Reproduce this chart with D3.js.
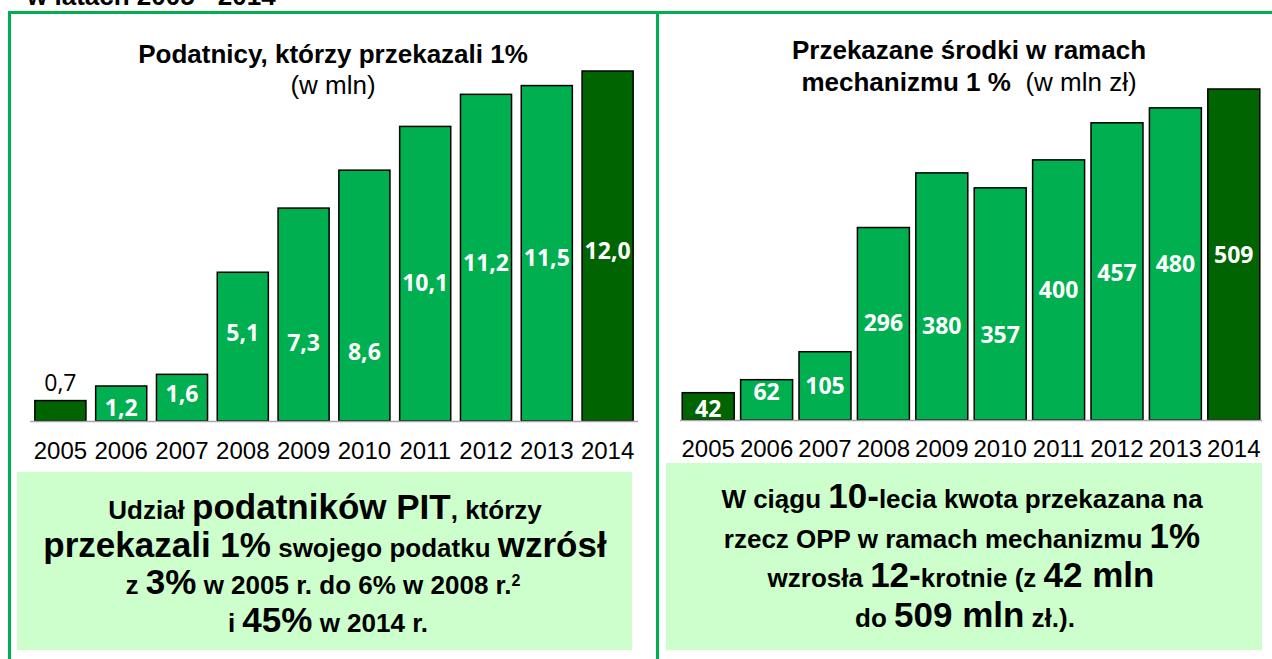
<!DOCTYPE html>
<html><head><meta charset="utf-8">
<script src="https://cdn.jsdelivr.net/npm/d3@7/dist/d3.min.js"></script>
<style>body{margin:0;background:#fff}svg{display:block}</style>
</head><body>
<svg id="c" width="1272" height="659"></svg>
<script>
// ---- data ----
const years = ["2005","2006","2007","2008","2009","2010","2011","2012","2013","2014"];
const taxpayers = [0.7, 1.2, 1.6, 5.1, 7.3, 8.6, 10.1, 11.2, 11.5, 12.0];
const taxpayerLabels = ["0,7","1,2","1,6","5,1","7,3","8,6","10,1","11,2","11,5","12,0"];
const funds = [42, 62, 105, 296, 380, 357, 400, 457, 480, 509];
const fundLabels = ["42","62","105","296","380","357","400","457","480","509"];

// ---- layout (label anchor heights in value units) ----
const tLabelAt = [1.3, 0.45, 0.92, 3.02, 2.67, 2.36, 4.73, 5.42, 5.59, 5.83];
const fLabelAt = [18, 43, 52, 149, 145, 131, 200, 226, 240, 254];

const LIGHT = "#00b050", DARK = "#006400", BORDER = "#00b050";
const svg = d3.select("#c");
const F = "Liberation Sans, Arial, sans-serif";
const LF = "Open Sans, Lato, sans-serif";

// top cut title
svg.append("text").attr("x", 27).attr("y", 5).attr("font-family", F)
  .attr("font-weight", "bold").attr("font-size", 26).text("w latach 2005 - 2014");

// borders
svg.append("line").attr("x1", 8).attr("x2", 1272).attr("y1", 12.5).attr("y2", 12.5).attr("stroke", BORDER).attr("stroke-width", 3);
svg.append("line").attr("x1", 9.5).attr("x2", 9.5).attr("y1", 11).attr("y2", 659).attr("stroke", BORDER).attr("stroke-width", 3);
svg.append("line").attr("x1", 657.5).attr("x2", 657.5).attr("y1", 11).attr("y2", 659).attr("stroke", BORDER).attr("stroke-width", 3);

function chart(cfg) {
  const x = d3.scaleBand().domain(years).range(cfg.xr).paddingInner(cfg.pi).paddingOuter(cfg.po);
  const y = d3.scaleLinear().domain([0, d3.max(cfg.values)]).range(cfg.yr);
  const g = svg.append("g");
  const id = "clip" + cfg.key;
  svg.append("clipPath").attr("id", id).append("rect")
    .attr("x", cfg.xr[0]).attr("y", 0).attr("width", cfg.xr[1] - cfg.xr[0]).attr("height", cfg.yr[0]);
  g.selectAll("rect.bar").data(cfg.values).join("rect").attr("class", "bar")
    .attr("x", (d, i) => x(years[i])).attr("width", x.bandwidth())
    .attr("y", d => y(d)).attr("height", d => y(0) - y(d))
    .attr("fill", (d, i) => cfg.dark.includes(i) ? DARK : LIGHT)
    .attr("stroke", "#000").attr("stroke-width", 1.5);
  g.append("line").attr("x1", cfg.xr[0]).attr("x2", cfg.xr[1]).attr("y1", y(0) + 0.5).attr("y2", y(0) + 0.5)
    .attr("stroke", "#a6a6a6").attr("stroke-width", 1.5);
  g.append("g").attr("clip-path", `url(#${id})`).selectAll("text").data(cfg.labels).join("text")
    .attr("x", (d, i) => x(years[i]) + x.bandwidth() / 2)
    .attr("y", (d, i) => y(cfg.labelAt[i]))
    .attr("dy", "0.36em").attr("text-anchor", "middle")
    .attr("font-family", LF)
    .attr("font-weight", (d, i) => cfg.outside.includes(i) ? "normal" : "bold")
    .attr("font-size", 23)
    .attr("fill", (d, i) => cfg.outside.includes(i) ? "#000" : "#fff")
    .text(d => d);
  const ax = d3.axisBottom(x).tickSize(0).tickPadding(0);
  const axg = g.append("g").attr("transform", `translate(0,${cfg.yearY})`).call(ax);
  axg.select(".domain").remove();
  axg.selectAll("text").attr("font-family", F).attr("font-size", cfg.yearFs).attr("fill", "#000").attr("dy", 0);
}

chart({key: "L", values: taxpayers, labels: taxpayerLabels, labelAt: tLabelAt,
  xr: [30, 638], pi: 0.16, po: 0.08, yr: [421, 71], dark: [0, 9], outside: [0], yearY: 459, yearFs: 24});
chart({key: "R", values: funds, labels: fundLabels, labelAt: fLabelAt,
  xr: [680, 1262], pi: 0.11, po: 0.038, yr: [420, 89], dark: [0, 9], outside: [], yearY: 457, yearFs: 24});

// rich text helper
function rich(xc, yb, parts) {
  const t = svg.append("text").attr("x", xc).attr("y", yb).attr("text-anchor", "middle")
    .attr("font-family", F).attr("fill", "#000").attr("xml:space", "preserve");
  parts.forEach(p => {
    const s = t.append("tspan").attr("font-size", p[1]).attr("font-weight", p[2] || "bold").text(p[0]);
    if (p[3]) s.attr("baseline-shift", "super");
  });
  return t;
}
rich(333, 63, [["Podatnicy, którzy przekazali 1%", 26]]);
rich(333, 94, [["(w mln)", 26, "normal"]]);
rich(969, 59, [["Przekazane środki w ramach", 26]]);
rich(969, 91, [["mechanizmu 1 %\u00a0\u00a0", 26], ["(w mln zł)", 26, "normal"]]);

// boxes
svg.append("rect").attr("x", 17).attr("y", 472).attr("width", 615).attr("height", 178).attr("fill", "#ccffcc");
svg.append("rect").attr("x", 666).attr("y", 463).attr("width", 596).attr("height", 187).attr("fill", "#ccffcc");

const S = 26, B = 35;
rich(325, 519, [["Udział ", S], ["podatników PIT", B], [", którzy", S]]);
rich(325, 557, [["przekazali 1%", B], [" swojego podatku ", S], ["wzrósł", B]]);
rich(323, 594, [["z ", S], ["3%", B], [" w 2005 r. do 6% w 2008 r.", S], ["2", 16, "bold", true]]);
rich(328, 632, [["i ", S], ["45%", B], [" w 2014 r.", S]]);

rich(962, 508, [["W ciągu ", S], ["10-", B], ["lecia kwota przekazana na", S]]);
rich(962, 548, [["rzecz OPP w ramach mechanizmu ", S], ["1%", B]]);
rich(961, 587, [["wzrosła ", S], ["12-", B], ["krotnie (z ", S], ["42 mln", B]]);
rich(965, 627, [["do ", S], ["509 mln", B], [" zł.).", S]]);
</script>
</body></html>
